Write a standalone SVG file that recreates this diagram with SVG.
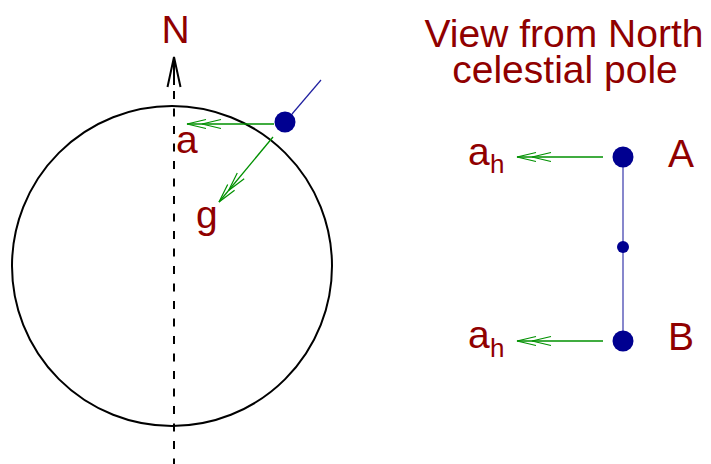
<svg xmlns="http://www.w3.org/2000/svg" width="711" height="464" viewBox="0 0 711 464">
  <style>
    .lbl { font-family: "Liberation Sans", Arial, Helvetica, sans-serif; fill: #900000; font-size: 39px; }
    .sub { font-family: "Liberation Sans", Arial, Helvetica, sans-serif; fill: #900000; font-size: 26px; }
    .acc { stroke: #009000; stroke-width: 1.3; fill: none; }
    .ball { fill: #000090; }
  </style>
  <defs>
    <marker id="dbl" markerUnits="userSpaceOnUse" orient="auto" refX="0" refY="0" markerWidth="40" markerHeight="12" viewBox="-36 -6 40 12" overflow="visible">
      <path d="M-19,-4.5 L0,0 L-19,4.5 M-34,-4.5 L-15,0 L-34,4.5" fill="none" stroke="#009000" stroke-width="1.2"/>
    </marker>
  </defs>

  <g id="earth">
    <circle cx="172" cy="266" r="160" fill="none" stroke="#000" stroke-width="2"/>
  </g>

  <g id="axis">
    <line x1="174" y1="58" x2="174" y2="85" stroke="#000" stroke-width="2"/>
    <line x1="174" y1="91" x2="174" y2="464" stroke="#000" stroke-width="2" stroke-dasharray="8 9.5"/>
    <polyline points="167.5,87 174,57 180.5,87" fill="none" stroke="#000" stroke-width="2"/>
    <text class="lbl" x="175.5" y="43" text-anchor="middle">N</text>
  </g>

  <g id="connectors">
    <line x1="292" y1="114" x2="321" y2="80" stroke="#2020a0" stroke-width="1.2"/>
    <line class="acc" x1="274" y1="124" x2="187" y2="124" marker-end="url(#dbl)"/>
    <line class="acc" x1="273" y1="137" x2="219" y2="202" marker-end="url(#dbl)"/>
    <line x1="623" y1="157" x2="623" y2="341" stroke="#7272c4" stroke-width="1.7"/>
    <line class="acc" x1="603" y1="157" x2="517" y2="157" marker-end="url(#dbl)"/>
    <line class="acc" x1="603" y1="341" x2="517" y2="341" marker-end="url(#dbl)"/>
  </g>

  <g id="body">
    <circle class="ball" cx="285" cy="122" r="10.5"/>
  </g>
  <g id="label-a">
    <text class="lbl" x="176" y="153">a</text>
  </g>
  <g id="label-g">
    <text class="lbl" x="196" y="228">g</text>
  </g>

  <g id="title">
    <text class="lbl" x="564" y="47" text-anchor="middle">View from North</text>
    <text class="lbl" x="565" y="83" text-anchor="middle">celestial pole</text>
  </g>

  <g id="ball-A">
    <circle class="ball" cx="623" cy="157" r="10.5"/>
    <text class="lbl" x="668" y="167">A</text>
  </g>
  <g id="ball-mid">
    <circle class="ball" cx="623" cy="247" r="6"/>
  </g>
  <g id="ball-B">
    <circle class="ball" cx="623" cy="341" r="10.5"/>
    <text class="lbl" x="668" y="350">B</text>
  </g>
  <g id="label-ah-A">
    <text class="lbl" x="468" y="165">a</text>
    <text class="sub" x="490" y="173">h</text>
  </g>
  <g id="label-ah-B">
    <text class="lbl" x="468" y="348">a</text>
    <text class="sub" x="490" y="357">h</text>
  </g>
</svg>
